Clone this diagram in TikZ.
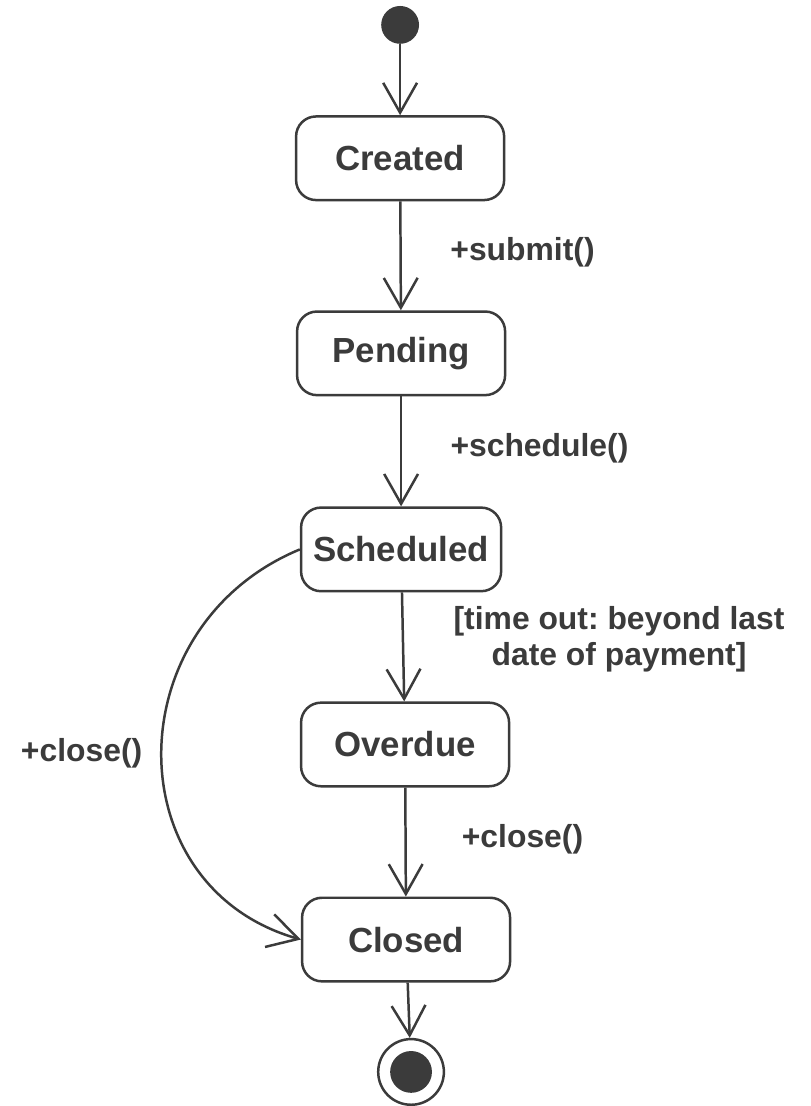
\documentclass[tikz,border=0pt]{standalone}
\usepackage{fontspec}
\setmainfont{Liberation Sans}
\usetikzlibrary{arrows.meta}
\definecolor{ink}{HTML}{3B3B3B}
\begin{document}
\begin{tikzpicture}[x=0.5pt,y=-0.5pt,
    state/.style={draw=ink, line width=1.25pt, rounded corners=10pt, minimum width=104.5pt, minimum height=42pt, inner sep=0pt, text=ink, font=\fontsize{17.5}{20}\selectfont\bfseries},
    trans/.style={draw=ink, line width=1.25pt, -{Straight Barb[length=15pt,width=17pt]}},
    lbl/.style={text=ink, inner sep=0pt, align=center, font=\fontsize{16}{18}\selectfont\bfseries\frenchspacing}]
    \path[fill=white] (0,0) rectangle (814,1106);

    \node[circle, fill=ink, minimum size=19pt, inner sep=0pt] (init) at (402,25) {};
    \node[state] (created) at (402,159) {Created};
    \node[state] (pending) at (403,355) {Pending};
    \node[state, minimum width=100.5pt] (sched) at (403,552) {Scheduled};
    \node[state] (overdue) at (407,748) {Overdue};
    \node[state] (closed) at (408,944) {Closed};
    \node[circle, draw=ink, line width=1.25pt, minimum size=33pt, inner sep=0pt] (done) at (413,1077) {};
    \fill[ink] (done.center) circle (10.5pt);

    \draw[trans] (init) -- (created);
    \draw[trans] (created) -- (pending);
    \draw[trans] (pending) -- (sched);
    \draw[trans] (sched) -- (overdue);
    \draw[trans] (overdue) -- (closed);
    \draw[trans] (closed) -- (done);
    \draw[trans] (sched.west) .. controls (116,629) and (116,891) .. (closed.west);

    \node[lbl] (submit) at (525,253) {+submit()};
    \node[lbl] (schedule) at (542,450) {+schedule()};
    \node[lbl] (guard) at (622,642) {[time out: beyond last\\date of payment]};
    \node[lbl] (closeA) at (82,757) {+close()};
    \node[lbl] (closeB) at (525,843) {+close()};
\end{tikzpicture}
\end{document}
